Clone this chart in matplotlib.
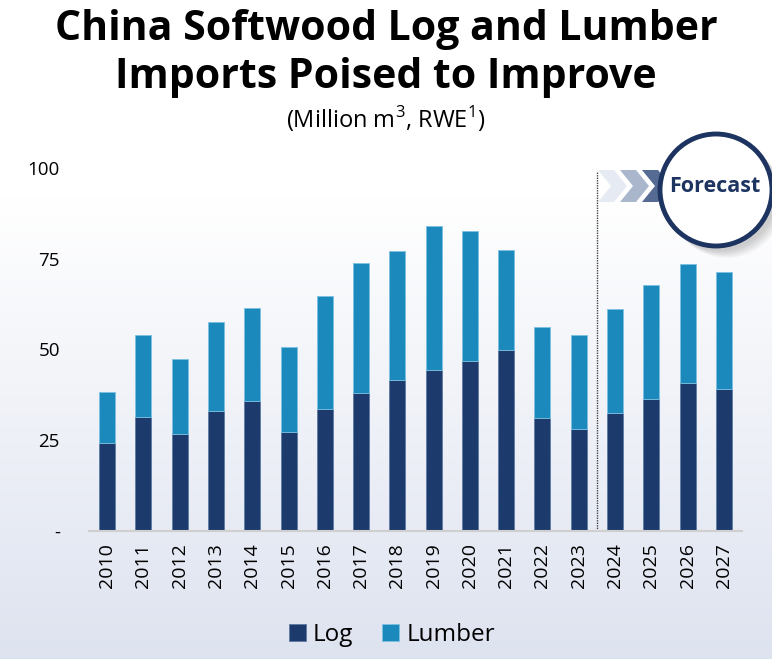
import numpy as np
import matplotlib
matplotlib.use("Agg")
import matplotlib.pyplot as plt
from matplotlib.patches import Circle, Polygon

# values (million m3, RWE)
years = ["2010", "2011", "2012", "2013", "2014", "2015", "2016", "2017", "2018",
         "2019", "2020", "2021", "2022", "2023", "2024", "2025", "2026", "2027"]
log = [24.2, 31.4, 26.7, 33.1, 35.8, 27.2, 33.5, 37.9, 41.5,
       44.3, 46.7, 49.8, 31.0, 28.0, 32.6, 36.3, 40.7, 39.2]
total = [38.3, 54.0, 47.4, 57.6, 61.4, 50.8, 64.7, 73.9, 77.1,
         84.0, 82.7, 77.5, 56.1, 53.9, 61.1, 67.7, 73.6, 71.3]
lumber = [t - l for t, l in zip(total, log)]
yticks = [0, 25, 50, 75, 100]
ytick_labels = ["-", "25", "50", "75", "100"]

navy = "#1c3a6b"
blue = "#1c89bd"

plt.rcParams["font.family"] = ["Open Sans", "DejaVu Sans"]
plt.rcParams["mathtext.fontset"] = "custom"
plt.rcParams["mathtext.rm"] = "Open Sans"

W, H = 772, 659
fig = plt.figure(figsize=(W / 100, H / 100), dpi=100)

# background gradient, white at top to light grey-blue at bottom
bg = fig.add_axes([0, 0, 1, 1], zorder=-10)
grad = np.linspace(0, 1, 256).reshape(-1, 1)
top = np.array([1.0, 1.0, 1.0])
bot = np.array([0.87, 0.89, 0.94])
img = top + (bot - top) * np.clip((grad - 0.3) / 0.7, 0, 1)[..., None]
bg.imshow(img, aspect="auto", extent=[0, 1, 0, 1], origin="upper")
bg.axis("off")

ax = fig.add_axes([89 / W, (H - 531) / H, 653 / W, 363 / H])
ax.patch.set_alpha(0)
x = np.arange(len(years))
ax.bar(x, log, width=0.44, color=navy, edgecolor="#5f7aa3", linewidth=0.6, label="Log")
ax.bar(x, lumber, bottom=log, width=0.44, color=blue, edgecolor="#7cc0e0",
       linewidth=0.6, label="Lumber")

ax.set_xlim(-0.5, len(years) - 0.5)
ax.set_ylim(0, 100)
ax.set_yticks(yticks)
ax.set_yticklabels(ytick_labels, fontsize=13.5)
ax.set_xticks(x)
ax.set_xticklabels(years, rotation=90, fontsize=14)
ax.tick_params(axis="y", length=0, pad=21)
ax.tick_params(axis="x", length=0, pad=9)
for s in ["top", "right", "left"]:
    ax.spines[s].set_visible(False)
ax.spines["bottom"].set_color("#cfcfcf")
ax.spines["bottom"].set_linewidth(1.5)

# forecast divider
ax.plot([13.5, 13.5], [0, 99], color="#444444", linestyle=(0, (1, 0.8)), linewidth=1.0)

leg = fig.legend(loc="center", bbox_to_anchor=(392 / W, 1 - 635 / H), ncol=2,
                 frameon=False, fontsize=17.5, handlelength=0.7, handleheight=0.7,
                 handletextpad=0.3, columnspacing=1.2)

# titles
fig.text(0.5, 1 - 29 / H, "China Softwood Log and Lumber", ha="center", va="center",
         fontsize=29.5, fontweight="bold")
fig.text(0.5, 1 - 77 / H, "Imports Poised to Improve", ha="center", va="center",
         fontsize=29.5, fontweight="bold")
fig.text(0.5, 1 - 119 / H, "(Million m$^3$, RWE$^1$)", ha="center", va="center",
         fontsize=17)

# forecast badge drawn in pixel space
ov = fig.add_axes([0, 0, 1, 1], zorder=5)
ov.set_xlim(0, W)
ov.set_ylim(H, 0)
ov.axis("off")
ov.patch.set_alpha(0)
chev_cols = ["#e6eaf2", "#aab6cc", "#566b93"]
for i, c in enumerate(chev_cols):
    x0 = 598 + i * 22
    pts = [(x0, 170), (x0 + 16, 170), (x0 + 29, 186), (x0 + 16, 202), (x0, 202), (x0 + 13, 186)]
    ov.add_patch(Polygon(pts, closed=True, color=c, lw=0))
for k in range(8):
    ov.add_patch(Circle((720 + k, 194 + k), 57, color="black", alpha=0.025, lw=0))
ov.add_patch(Circle((716, 190), 56, facecolor="white", edgecolor="#1d3461", lw=3.5))
ov.text(715, 187, "Forecast", ha="center", va="center", fontsize=15.5,
        fontweight="bold", color="#1d3461")

fig.savefig("out.png", dpi=100)
